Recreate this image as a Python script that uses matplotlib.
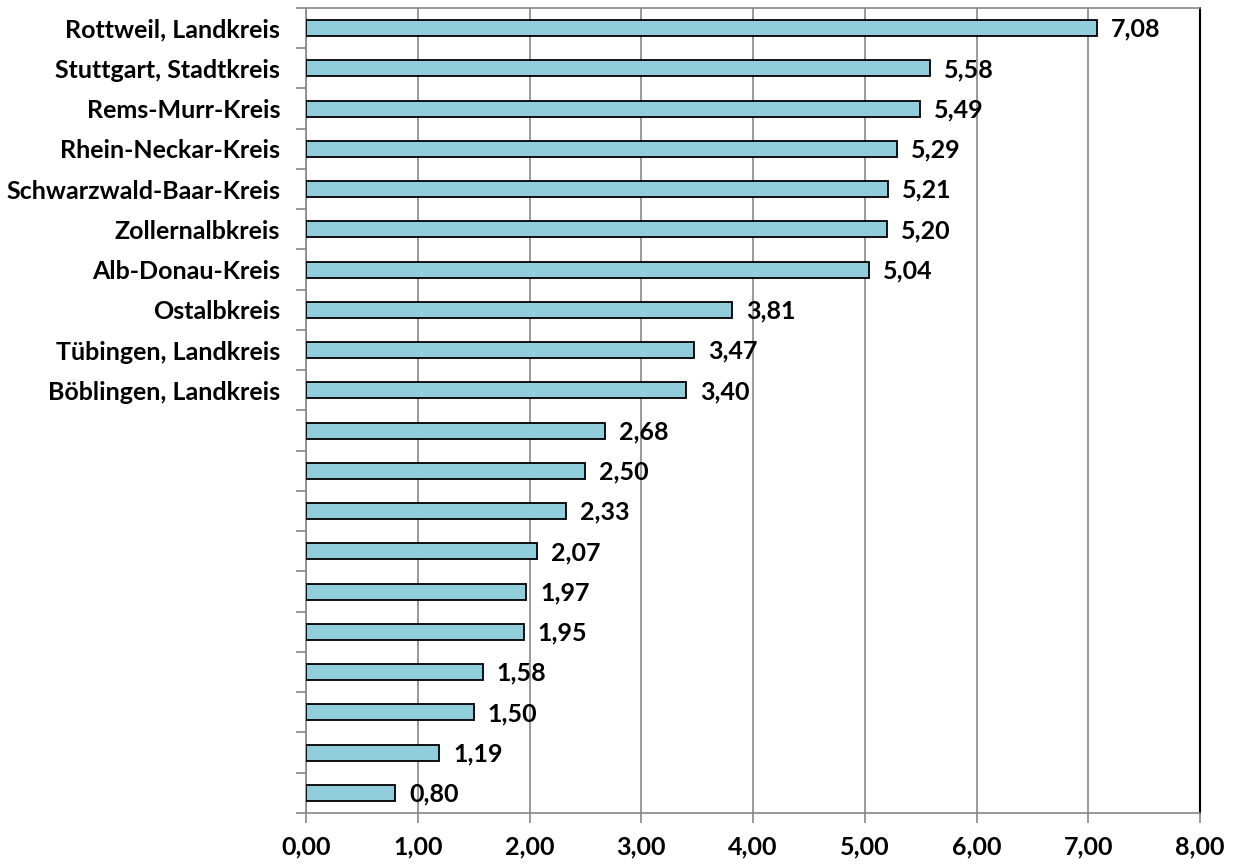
import matplotlib
matplotlib.use("Agg")
import matplotlib.pyplot as plt
import numpy as np

categories = ["Rottweil, Landkreis", "Stuttgart, Stadtkreis", "Rems-Murr-Kreis",
              "Rhein-Neckar-Kreis", "Schwarzwald-Baar-Kreis", "Zollernalbkreis",
              "Alb-Donau-Kreis", "Ostalbkreis", "Tübingen, Landkreis", "Böblingen, Landkreis",
              "", "", "", "", "", "", "", "", "", ""]
values = [7.08, 5.58, 5.49, 5.29, 5.21, 5.20, 5.04, 3.81, 3.47, 3.40,
          2.68, 2.50, 2.33, 2.07, 1.97, 1.95, 1.58, 1.50, 1.19, 0.80]
xticks = [0, 1, 2, 3, 4, 5, 6, 7, 8]

plt.rcParams['font.family'] = ['Lato', 'DejaVu Sans']
fig = plt.figure(figsize=(12.34, 8.64), dpi=100)
ax = fig.add_axes([306/1234, 1-813/864, (1200-306)/1234, (813-8)/864])

n = len(values)
y = np.arange(n)
ax.barh(y, values, height=0.4, color="#92CDDC", edgecolor="black", linewidth=1.3, zorder=3)
ax.set_ylim(n - 0.5, -0.5)
ax.set_xlim(0, 8)

for yi, v in zip(y, values):
    ax.text(v + 0.125, yi + 0.03, f"{v:.2f}".replace(".", ","), va="center", ha="left",
            fontsize=18, fontweight="bold", zorder=4)

ax.set_yticks(y)
ax.set_yticklabels(categories, fontsize=18, fontweight="bold")
ax.tick_params(axis="y", which="major", length=0, pad=18.5)
ax.set_yticks(np.arange(-0.5, n, 1), minor=True)
ax.tick_params(axis="y", which="minor", length=7, width=1.2, color="#888888", direction="out")

ax.set_xticks(xticks)
ax.set_xticklabels([f"{t:.2f}".replace(".", ",") for t in xticks], fontsize=18, fontweight="bold")
ax.tick_params(axis="x", length=7, width=1.2, color="#888888", pad=9)

ax.grid(axis="x", color="#888888", linewidth=1.2, zorder=0)
for s in ["left", "bottom", "top"]:
    ax.spines[s].set_color("#888888")
    ax.spines[s].set_linewidth(1.2)
ax.spines["right"].set_color("black")
ax.spines["right"].set_linewidth(1.5)

fig.savefig("out.png", dpi=100)
